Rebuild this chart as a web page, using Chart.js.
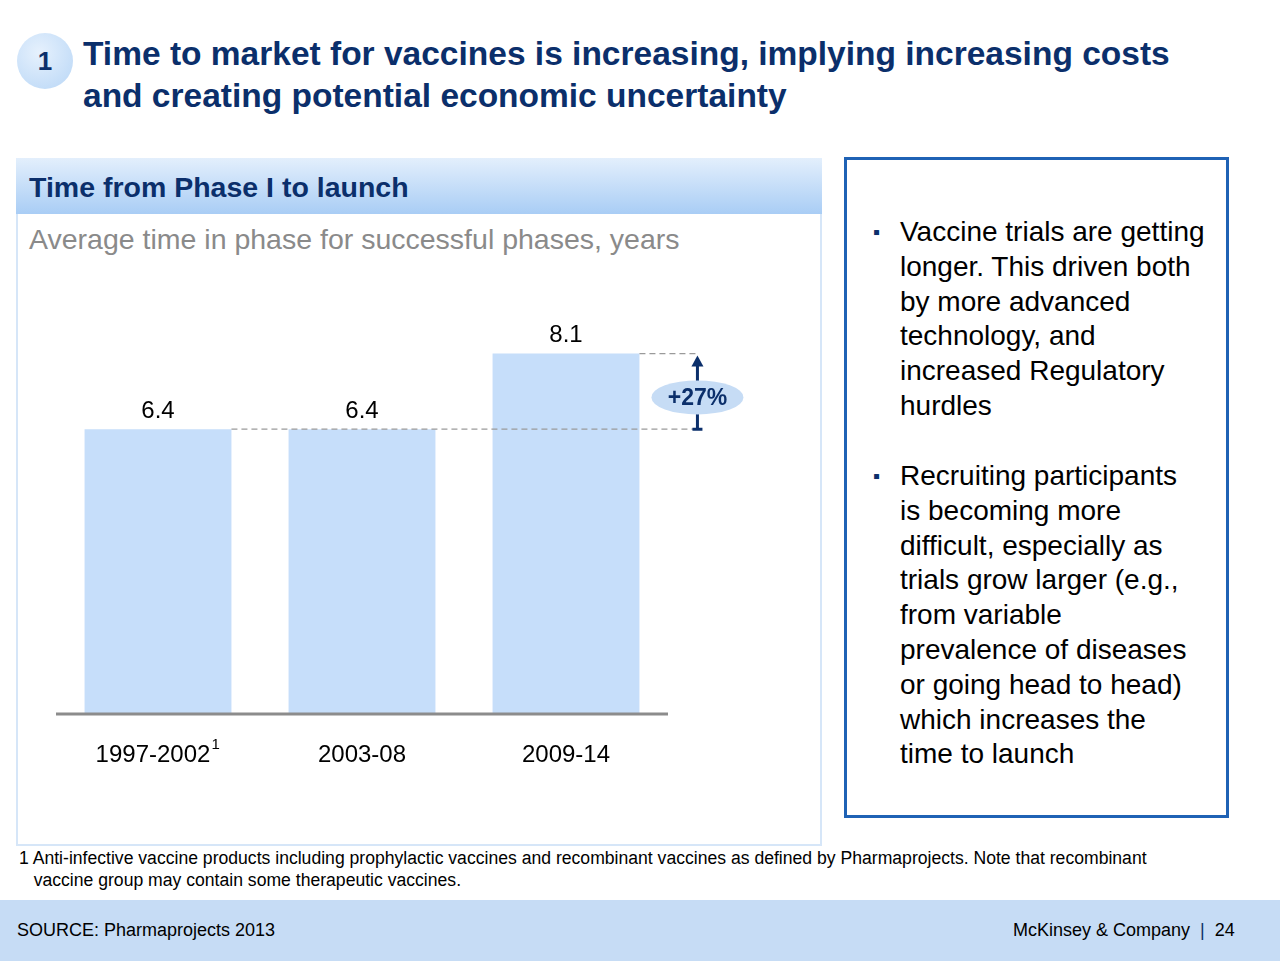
<!DOCTYPE html><html><head><meta charset="utf-8">
<script src="https://cdn.jsdelivr.net/npm/chart.js@4"></script>
<style>
body{margin:0;width:1280px;height:961px;position:relative;font-family:Arial,"Liberation Sans",sans-serif;background:#fff;overflow:hidden}
.badge{position:absolute;left:17px;top:33px;width:56px;height:56px;border-radius:50%;background:radial-gradient(circle at 40% 35%,#e6f1fd,#b8d6f6);color:#0b2f6b;font-weight:bold;font-size:26px;text-align:center;line-height:56px}
.title{position:absolute;left:83px;top:33px;font-size:33.5px;font-weight:bold;color:#0b2f6b;line-height:42px;white-space:nowrap}
.panel{position:absolute;left:16px;top:158px;width:806px;height:688px;border:2px solid #d6e6f8;box-sizing:border-box}
.head{position:absolute;left:16px;top:158px;width:806px;height:56px;background:linear-gradient(#e3effc,#a9cdf5);color:#0b2f6b;font-weight:bold;font-size:28.5px;line-height:58px;padding-left:13px;box-sizing:border-box}
.sub{position:absolute;left:29px;top:223px;font-size:28.5px;color:#8a8a8a}
canvas{position:absolute;left:0;top:260px}
.box{position:absolute;left:844px;top:157px;width:385px;height:661px;border:3px solid #1f62b5;box-sizing:border-box}
.bul{position:absolute;left:900px;font-size:28px;line-height:34.8px;color:#000;width:305px}
.bul:before{content:"▪";position:absolute;left:-27px;font-size:20px;color:#0b2f6b}
.fn{position:absolute;left:19px;top:847px;font-size:17.6px;line-height:22px;color:#000;white-space:nowrap}
.foot{position:absolute;left:0;top:900px;width:1280px;height:61px;background:#c6dcf5;font-size:18px}
</style></head><body>
<div class="badge">1</div>
<div class="title">Time to market for vaccines is increasing, implying increasing costs<br>and creating potential economic uncertainty</div>
<div class="panel"></div>
<div class="head">Time from Phase I to launch</div>
<div class="sub">Average time in phase for successful phases, years</div>
<canvas id="c"></canvas>
<div class="box"></div>
<div class="bul" style="top:215px">Vaccine trials are getting longer. This driven both by more advanced technology, and increased Regulatory hurdles</div>
<div class="bul" style="top:459px">Recruiting participants is becoming more difficult, especially as trials grow larger (e.g., from variable prevalence of diseases or going head to head) which increases the time to launch</div>
<div class="fn">1 Anti-infective vaccine products including prophylactic vaccines and recombinant vaccines as defined by Pharmaprojects. Note that recombinant<br>&nbsp;&nbsp;&nbsp;vaccine group may contain some therapeutic vaccines.</div>
<div class="foot"><span style="position:absolute;left:17px;top:20px">SOURCE: Pharmaprojects 2013</span><span style="position:absolute;left:1013px;top:20px">McKinsey &amp; Company &nbsp;<span style="color:#0b2f6b">|</span>&nbsp; 24</span></div>
<script>
const categories=["1997-2002","2003-08","2009-14"];
const superscripts=["1","",""];
const values=[6.4,6.4,8.1];
const growthLabel="+27%";
const cv=document.getElementById('c');cv.width=820;cv.height=560;
const plug={id:'p',afterDatasetsDraw(ch){
 const c=ch.ctx,x=ch.scales.x,y=ch.scales.y,ca=ch.chartArea;
 const meta=ch.getDatasetMeta(0);
 c.save();
 c.strokeStyle='#8c8c8c';c.lineWidth=3;c.beginPath();c.moveTo(ca.left,ca.bottom);c.lineTo(ca.right,ca.bottom);c.stroke();
 c.fillStyle='#000';c.font='24px Arial';c.textAlign='center';
 meta.data.forEach((b,i)=>{
  c.textBaseline='bottom';c.fillText(values[i].toFixed(1),b.x,b.y-6);
  c.textBaseline='middle';
  const w=c.measureText(categories[i]).width;
  const off=superscripts[i]?5:0;
  c.fillText(categories[i],b.x-off,ca.bottom+41);
  if(superscripts[i]){c.font='15px Arial';c.textAlign='left';c.fillText(superscripts[i],b.x-off+w/2+1,ca.bottom+31);c.font='24px Arial';c.textAlign='center';}
 });
 const b0=meta.data[0],b2=meta.data[2];
 const yl=y.getPixelForValue(values[0]),yh=y.getPixelForValue(values[2]);
 const ax=b2.x+b2.width/2+58;
 c.setLineDash([6,4]);c.strokeStyle='#9a9a9a';c.lineWidth=1.2;
 c.beginPath();c.moveTo(b0.x+b0.width/2,yl);c.lineTo(ax,yl);c.moveTo(b2.x+b2.width/2,yh);c.lineTo(ax,yh);c.stroke();
 c.setLineDash([]);
 c.strokeStyle='#0b2f6b';c.lineWidth=3;
 c.beginPath();c.moveTo(ax,yl);c.lineTo(ax,yh+6);c.moveTo(ax-5,yl);c.lineTo(ax+5,yl);c.stroke();
 c.fillStyle='#0b2f6b';c.beginPath();c.moveTo(ax,yh+2);c.lineTo(ax-6,yh+13);c.lineTo(ax+6,yh+13);c.fill();
 const my=(yl+yh)/2+6;
 c.fillStyle='#c6dcf5';c.beginPath();c.ellipse(ax,my,46,17,0,0,Math.PI*2);c.fill();
 c.fillStyle='#0b2f6b';c.font='bold 23px Arial';c.textBaseline='middle';c.fillText(growthLabel,ax,my+1);
 c.restore();
}};
new Chart(cv,{type:'bar',data:{labels:categories,datasets:[{data:values,backgroundColor:'#c6defa',barPercentage:0.72,categoryPercentage:1}]},
options:{responsive:false,animation:false,events:[],layout:{padding:{left:56,right:152,top:9,bottom:106}},
plugins:{legend:{display:false},tooltip:{enabled:false}},
scales:{x:{display:false},y:{display:false,min:0,max:10}}},plugins:[plug]});
</script></body></html>
